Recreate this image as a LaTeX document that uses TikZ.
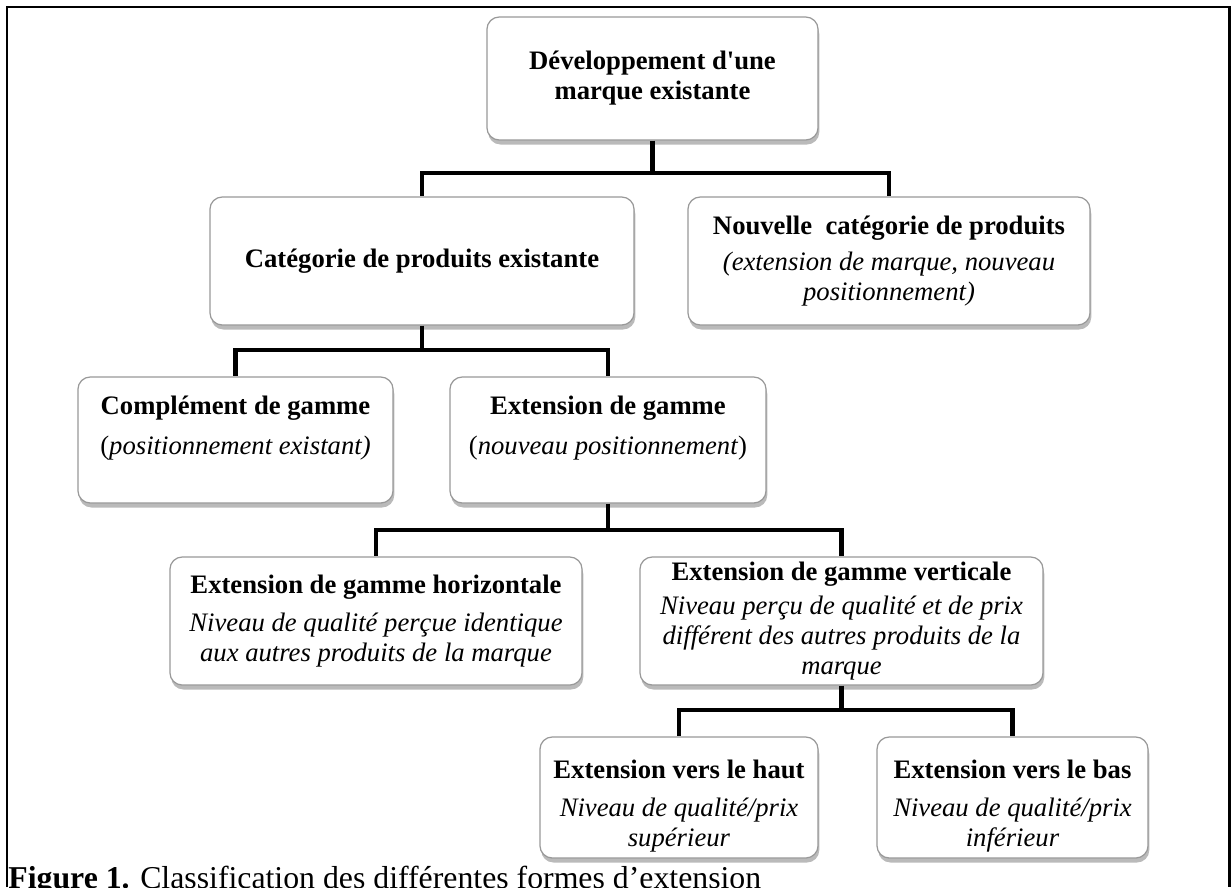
\documentclass[tikz,border=0pt]{standalone}
\usepackage{fontspec}
\setmainfont{Liberation Serif}[Ligatures=TeXOff]
\usetikzlibrary{shadows}

\tikzset{
    box/.style 2 args={draw=black!40, fill=white, rounded corners=6pt, line width=0.6pt,
        align=center, inner sep=2pt, font=\fontsize{13}{14.6}\selectfont,
        minimum width=#1*0.4877pt, minimum height=#2*0.4877pt,
        drop shadow={shadow xshift=0.6pt, shadow yshift=-2.2pt, opacity=0.45, fill=black!60}},
    link/.style={line width=2.4pt, black},
}

\begin{document}
\begin{tikzpicture}[x=0.01714cm, y=-0.01714cm]
    \useasboundingbox (0,0) rectangle (1231,887);
    \draw[line width=1.1pt] (7,887) -- (7,7) -- (1229.5,7) -- (1229.5,887);
    % boxes
    \node[box={331}{123}] (root) at (652.5,78.5) {\textbf{Développement d'une}\\\textbf{marque existante}};
    \node[box={424}{128}] (cat) at (422,261) {\textbf{Catégorie de produits existante}};
    \node[box={402}{128}] (nouv) at (889,261) {\textbf{Nouvelle~ catégorie de produits}\\[3pt]\textit{(extension de marque, nouveau}\\\textit{positionnement)}};
    \node[box={315}{126}] (compl) at (235.5,440) {\textbf{Complément de gamme}\\[5pt](\textit{positionnement existant)}\\~};
    \node[box={316}{126}] (ext) at (608,440) {\textbf{Extension de gamme}\\[5pt](\textit{nouveau positionnement})\\~};
    \node[box={412}{128}] (horiz) at (376,621) {\textbf{Extension de gamme horizontale}\\[4pt]\textit{Niveau de qualité perçue identique}\\\textit{aux autres produits de la marque}};
    \node[box={403}{128}] (vert) at (841.5,621) {\textbf{Extension de gamme verticale}\\[2pt]\textit{Niveau perçu de qualité et de prix}\\\textit{différent des autres produits de la}\\\textit{marque}};
    \node[box={278}{121}] (haut) at (679,797.5) {\textbf{\rule{0pt}{17pt}Extension vers le haut}\\[4pt]\textit{Niveau de qualité/prix}\\\textit{supérieur}};
    \node[box={271}{121}] (bas) at (1012.5,797.5) {\textbf{\rule{0pt}{17pt}Extension vers le bas}\\[4pt]\textit{Niveau de qualité/prix}\\\textit{inférieur}};
    % junctions
    \coordinate (j0) at (652.5,173);
    \coordinate (j1) at (422,350);
    \coordinate (j2) at (608,530);
    \coordinate (j3) at (841.5,710);
    \draw[link] (root.south) -- (j0) -| (cat.north);
    \draw[link] (j0) -| (nouv.north);
    \draw[link] (cat.south) -- (j1) -| (compl.north);
    \draw[link] (j1) -| (ext.north);
    \draw[link] (ext.south) -- (j2) -| (horiz.north);
    \draw[link] (j2) -| (vert.north);
    \draw[link] (vert.south) -- (j3) -| (haut.north);
    \draw[link] (j3) -| (bas.north);
    % caption
    \node[anchor=base west, inner sep=0pt, font=\fontsize{15.5}{17}\selectfont] (caption) at (8,888)
        {\textbf{Figure 1.} Classification des différentes formes d’extension};
\end{tikzpicture}
\end{document}
